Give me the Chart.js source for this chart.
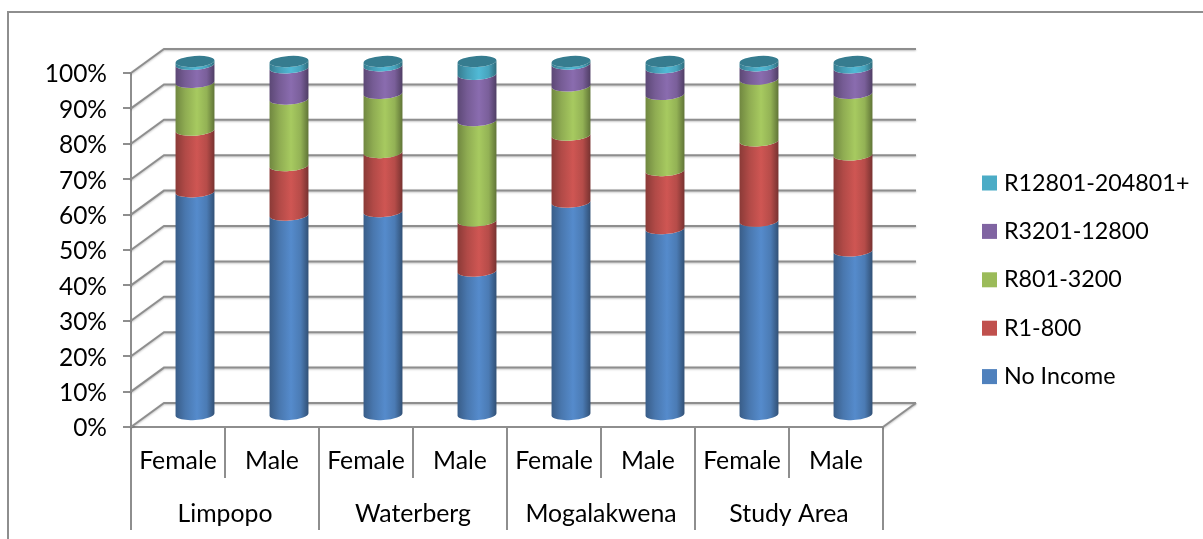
<!DOCTYPE html>
<html>
<head>
<meta charset="utf-8">
<title>Income by gender</title>
<script src="https://cdn.jsdelivr.net/npm/chart.js@4/dist/chart.umd.js"></script>
<style>
  html, body { margin: 0; padding: 0; background: #fff; }
  #wrap { position: relative; width: 1203px; height: 539px; overflow: hidden; }
</style>
</head>
<body>
<div id="wrap"><canvas id="chart"></canvas></div>
<script>
const genders = ['Female', 'Male', 'Female', 'Male', 'Female', 'Male', 'Female', 'Male'];
const regions = ['Limpopo', 'Waterberg', 'Mogalakwena', 'Study Area'];

const noIncome = [63.2, 56.6, 57.6, 40.8, 60.3, 52.8, 54.9, 46.5];
const r1to800 = [17.4, 14.0, 16.7, 14.2, 18.9, 16.4, 22.7, 27.1];
const r801to3200 = [13.5, 18.8, 16.7, 28.3, 13.9, 21.5, 17.4, 17.4];
const r3201to12800 = [5.1, 8.8, 7.8, 13.1, 6.2, 7.5, 3.8, 7.2];
const r12801plus = [0.8, 1.8, 1.2, 3.6, 0.7, 1.8, 1.2, 1.8];

const seriesNames = ['No Income', 'R1-800', 'R801-3200', 'R3201-12800', 'R12801-204801+'];
const seriesColors = ['#4f81bd', '#c0504d', '#9bbb59', '#8064a2', '#4bacc6'];

const lineColor = '#8e8e8e';
const fontFamily = 'Lato, sans-serif';
// depth of the 3D box, and how far the columns sit inside it
const depthX = 33, depthY = -24;
const barDX = 17, barDY = -11.5;

function shade(hex, f) {
  const n = parseInt(hex.slice(1), 16);
  const c = [n >> 16, (n >> 8) & 255, n & 255].map(v => Math.min(255, Math.round(v * f)));
  return `rgb(${c.join(',')})`;
}

function sideGradient(ctx, x, rx, color) {
  const g = ctx.createLinearGradient(x - rx, 0, x + rx, 0);
  g.addColorStop(0, shade(color, 0.72));
  g.addColorStop(0.25, shade(color, 0.92));
  g.addColorStop(0.55, shade(color, 1.08));
  g.addColorStop(0.8, shade(color, 0.95));
  g.addColorStop(1, shade(color, 0.62));
  return g;
}

const box3d = {
  id: 'box3d',
  beforeDatasetsDraw(chart) {
    const {ctx, scales: {x, y}} = chart;
    ctx.save();
    ctx.strokeStyle = lineColor;
    ctx.lineWidth = 2;
    ctx.shadowColor = 'rgba(0,0,0,0.25)';
    ctx.shadowBlur = 2;
    ctx.shadowOffsetY = 1;
    // side wall diagonals and back wall lines for each percent tick
    y.ticks.forEach(t => {
      const py = y.getPixelForValue(t.value);
      ctx.beginPath();
      ctx.moveTo(x.left, py);
      ctx.lineTo(x.left + depthX, py + depthY);
      ctx.lineTo(x.right + depthX, py + depthY);
      ctx.stroke();
    });
    // right edge of the floor
    ctx.beginPath();
    ctx.moveTo(x.right, y.bottom);
    ctx.lineTo(x.right + depthX, y.bottom + depthY);
    ctx.stroke();
    ctx.restore();
  }
};

const cylinders = {
  id: 'cylinders',
  beforeDatasetsDraw(chart) {
    const ctx = chart.ctx;
    const rot = -4 * Math.PI / 180;
    ctx.save();
    chart.data.datasets.forEach((ds, i) => {
      chart.getDatasetMeta(i).data.forEach(el => {
        const cx = el.x + barDX, rx = el.width / 2, ry = 5.5;
        const top = el.y + barDY, base = el.base + barDY;
        ctx.fillStyle = sideGradient(ctx, cx, rx, ds.backgroundColor);
        ctx.beginPath();
        ctx.ellipse(cx, base, rx, ry, rot, 0, Math.PI, false);
        ctx.ellipse(cx, top, rx, ry, rot, Math.PI, 0, true);
        ctx.closePath();
        ctx.fill();
        if (i === chart.data.datasets.length - 1) {
          ctx.fillStyle = shade(ds.backgroundColor, 0.72);
          ctx.beginPath();
          ctx.ellipse(cx, top, rx, ry, rot, 0, Math.PI * 2);
          ctx.fill();
        }
      });
    });
    ctx.restore();
    return false;
  }
};

// outer chart border: left and top edges only
const frame = {
  id: 'frame',
  beforeDraw(chart) {
    const ctx = chart.ctx;
    ctx.save();
    ctx.strokeStyle = lineColor;
    ctx.lineWidth = 2;
    ctx.beginPath();
    ctx.moveTo(8, 539);
    ctx.lineTo(8, 12);
    ctx.lineTo(1203, 12);
    ctx.stroke();
    ctx.restore();
  }
};

// series legend, top entry is the top of the stack
const sideLegend = {
  id: 'sideLegend',
  afterDraw(chart) {
    const ctx = chart.ctx;
    ctx.save();
    ctx.font = `23.3px ${fontFamily}`;
    ctx.textBaseline = 'middle';
    chart.data.datasets.slice().reverse().forEach((ds, i) => {
      const y = 183 + i * 48.4;
      ctx.fillStyle = ds.backgroundColor;
      ctx.fillRect(982, y - 7.5, 15, 15);
      ctx.fillStyle = '#000';
      ctx.fillText(ds.label, 1004, y);
    });
    ctx.restore();
  }
};

const datasetValues = [noIncome, r1to800, r801to3200, r3201to12800, r12801plus];

new Chart(document.getElementById('chart'), {
  type: 'bar',
  data: {
    labels: genders,
    datasets: datasetValues.map((data, i) => ({
      label: seriesNames[i],
      data,
      backgroundColor: seriesColors[i],
      barPercentage: 0.415,
      categoryPercentage: 1
    }))
  },
  options: {
    responsive: true,
    maintainAspectRatio: false,
    animation: false,
    layout: {padding: {left: 40, right: 320, top: 73, bottom: 9}},
    plugins: {legend: {display: false}, tooltip: {enabled: false}},
    scales: {
      y: {
        stacked: true,
        min: 0,
        max: 100,
        afterFit: scale => { scale.width = 91; },
        grid: {drawOnChartArea: false, color: lineColor, lineWidth: 2, tickLength: 8},
        border: {color: lineColor, width: 2},
        ticks: {
          stepSize: 10,
          padding: 16,
          labelOffset: 1.5,
          color: '#000',
          font: {family: fontFamily, size: 24.5},
          callback: value => value + '%'
        }
      },
      x: {
        stacked: true,
        afterFit: scale => { scale.height = 51; },
        grid: {drawOnChartArea: false, offset: true, color: lineColor, lineWidth: 2, tickLength: 51},
        border: {color: lineColor, width: 2},
        ticks: {
          padding: -32,
          maxRotation: 0,
          autoSkip: false,
          color: '#000',
          font: {family: fontFamily, size: 24.8}
        }
      },
      regions: {
        type: 'category',
        axis: 'x',
        position: 'bottom',
        labels: regions,
        afterFit: scale => { scale.height = 52; },
        grid: {drawOnChartArea: false, offset: true, color: lineColor, lineWidth: 2, tickLength: 52},
        border: {display: false},
        ticks: {
          padding: -31,
          maxRotation: 0,
          autoSkip: false,
          color: '#000',
          font: {family: fontFamily, size: 24.8}
        }
      }
    }
  },
  plugins: [frame, box3d, cylinders, sideLegend]
});
</script>
</body>
</html>
